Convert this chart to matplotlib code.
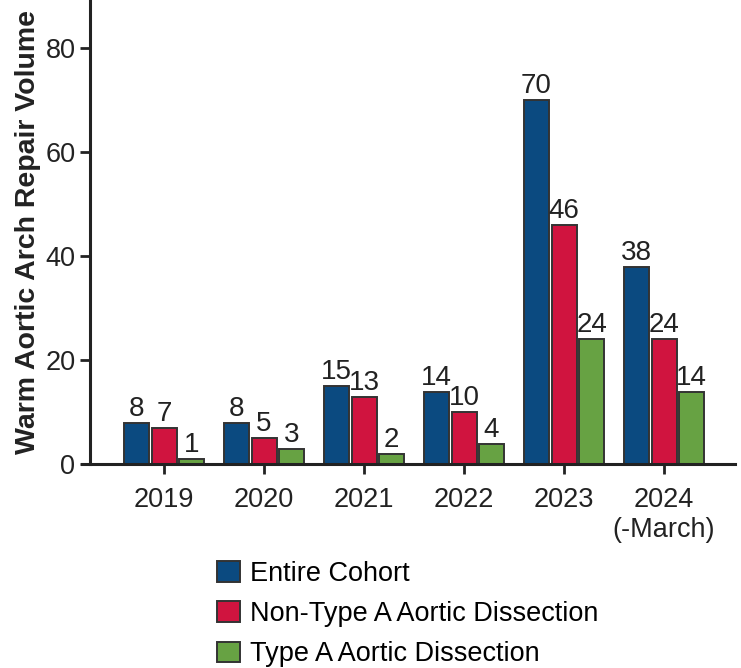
import numpy as np
import matplotlib.pyplot as plt

years = ['2019', '2020', '2021', '2022', '2023', '2024\n(-March)']
entire = [8, 8, 15, 14, 70, 38]
non_type_a = [7, 5, 13, 10, 46, 24]
type_a = [1, 3, 2, 4, 24, 14]

series = [('Entire Cohort', entire, '#0b4a80'),
          ('Non-Type A Aortic Dissection', non_type_a, '#d0143f'),
          ('Type A Aortic Dissection', type_a, '#67a243')]

plt.rcParams['font.family'] = ['Liberation Sans', 'DejaVu Sans']

fig = plt.figure(figsize=(7.41, 6.68), dpi=100)
ax = fig.add_axes([0.1215, 0.3047, 0.8705, 0.6953])

x = np.arange(len(years))
w = 0.25
step = 0.275
for i, (name, vals, col) in enumerate(series):
    pos = x + (i - 1) * step
    ax.bar(pos, vals, width=w, color=col, edgecolor='#333333', linewidth=1.4, label=name)
    for p, v in zip(pos, vals):
        ax.text(p, v + 0.2, str(v), ha='center', va='bottom', fontsize=20, color='#222222')

ax.set_xlim(-0.74, 5.71)
ax.set_ylim(0, 89.2)
ax.set_xticks(x)
ax.set_xticklabels(years, fontsize=19.5, color='#222222', linespacing=1.2)
ax.set_yticks([0, 20, 40, 60, 80])
ax.tick_params(axis='y', labelsize=19.5, labelcolor='#222222', length=7, width=2, color='#222222')
ax.tick_params(axis='x', length=7, width=2, color='#222222', pad=9)
ax.set_ylabel('Warm Aortic Arch Repair Volume', fontsize=20.5, fontweight='bold', color='#222222', labelpad=3)

for s in ['top', 'right']:
    ax.spines[s].set_visible(False)
for s in ['left', 'bottom']:
    ax.spines[s].set_linewidth(2.2)
    ax.spines[s].set_color('#222222')
ax.spines['bottom'].set_bounds(-0.82, 5.71)

fig.legend(loc='upper left', bbox_to_anchor=(0.293, 0.16), frameon=False, fontsize=19.5,
           handlelength=0.85, handleheight=0.8, handletextpad=0.38, labelspacing=0.52,
           borderpad=0, borderaxespad=0)

plt.savefig('out.png', dpi=100)
